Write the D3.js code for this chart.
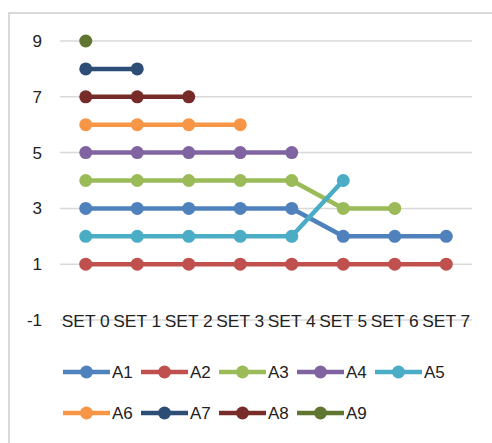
<!DOCTYPE html>
<html>
<head>
<meta charset="utf-8">
<script src="https://cdn.jsdelivr.net/npm/d3@7"></script>
<style>
  body { margin: 0; background: #fff; }
  text { font-family: "Liberation Sans", Arial, sans-serif; fill: #222; }
</style>
</head>
<body>
<svg id="chart"></svg>
<script>
// data
const categories = ["SET 0", "SET 1", "SET 2", "SET 3", "SET 4", "SET 5", "SET 6", "SET 7"];
const seriesNames = ["A1", "A2", "A3", "A4", "A5", "A6", "A7", "A8", "A9"];
const A1 = [3, 3, 3, 3, 3, 2, 2, 2];
const A2 = [1, 1, 1, 1, 1, 1, 1, 1];
const A3 = [4, 4, 4, 4, 4, 3, 3];
const A4 = [5, 5, 5, 5, 5];
const A5 = [2, 2, 2, 2, 2, 4];
const A6 = [6, 6, 6, 6];
const A7 = [8, 8];
const A8 = [7, 7, 7];
const A9 = [9];
const yTicks = [-1, 1, 3, 5, 7, 9];
const colors = ["#4F81BD", "#C0504D", "#9BBB59", "#8064A2", "#4BACC6", "#F79646", "#2C4D75", "#772C2A", "#5F7530"];

const allSeries = [A1, A2, A3, A4, A5, A6, A7, A8, A9].map((vals, i) => ({
    name: seriesNames[i],
    color: colors[i],
    values: vals.map((v, j) => ({ cat: categories[j], v: v }))
}));

const W = 492, H = 443;
const svg = d3.select("#chart").attr("width", W).attr("height", H);

// outer frame
svg.append("rect")
    .attr("x", 9).attr("y", 13)
    .attr("width", 500).attr("height", 460)
    .attr("fill", "#fff")
    .attr("stroke", "#d9d9d9")
    .attr("stroke-width", 2);

// scales
const x = d3.scaleBand().domain(categories).range([60, 472]);
const y = d3.scaleLinear().domain([-1, 9]).range([320, 41]);

// gridlines
svg.append("g")
    .selectAll("line")
    .data(yTicks)
    .enter()
    .append("line")
    .attr("x1", 60).attr("x2", 472)
    .attr("y1", d => y(d)).attr("y2", d => y(d))
    .attr("stroke", "#d9d9d9")
    .attr("stroke-width", 1.5);

// y labels
svg.append("g")
    .selectAll("text")
    .data(yTicks)
    .enter()
    .append("text")
    .attr("x", 42)
    .attr("y", d => y(d))
    .attr("dy", "0.35em")
    .attr("text-anchor", "end")
    .style("font-size", "17px")
    .text(d => d);

// category labels
svg.append("g")
    .selectAll("text")
    .data(categories)
    .enter()
    .append("text")
    .attr("x", d => x(d) + x.bandwidth() / 2)
    .attr("y", y(-1))
    .attr("dy", "0.4em")
    .attr("text-anchor", "middle")
    .style("font-size", "17px")
    .attr("textLength", 48)
    .attr("lengthAdjust", "spacingAndGlyphs")
    .text(d => d);

// lines
const line = d3.line()
    .x(d => x(d.cat) + x.bandwidth() / 2)
    .y(d => y(d.v));

const g = svg.append("g");
allSeries.forEach(s => {
    g.append("path")
        .datum(s.values)
        .attr("fill", "none")
        .attr("stroke", s.color)
        .attr("stroke-width", 4.5)
        .attr("stroke-linejoin", "round")
        .attr("d", line);
    g.selectAll(".dot-" + s.name)
        .data(s.values)
        .enter()
        .append("circle")
        .attr("cx", d => x(d.cat) + x.bandwidth() / 2)
        .attr("cy", d => y(d.v))
        .attr("r", 6.5)
        .attr("fill", s.color);
});

// legend
const legend = svg.append("g");
allSeries.forEach((s, i) => {
    const col = i % 5, row = Math.floor(i / 5);
    const lx = 63 + col * 78, ly = 372 + row * 41;
    const item = legend.append("g").attr("transform", `translate(${lx},${ly})`);
    item.append("line")
        .attr("x1", 0).attr("x2", 47)
        .attr("stroke", s.color)
        .attr("stroke-width", 4.5);
    item.append("circle")
        .attr("cx", 23.5).attr("r", 6.5)
        .attr("fill", s.color);
    item.append("text")
        .attr("x", 49)
        .attr("dy", "0.36em")
        .style("font-size", "17px")
        .text(s.name);
});
</script>
</body>
</html>
